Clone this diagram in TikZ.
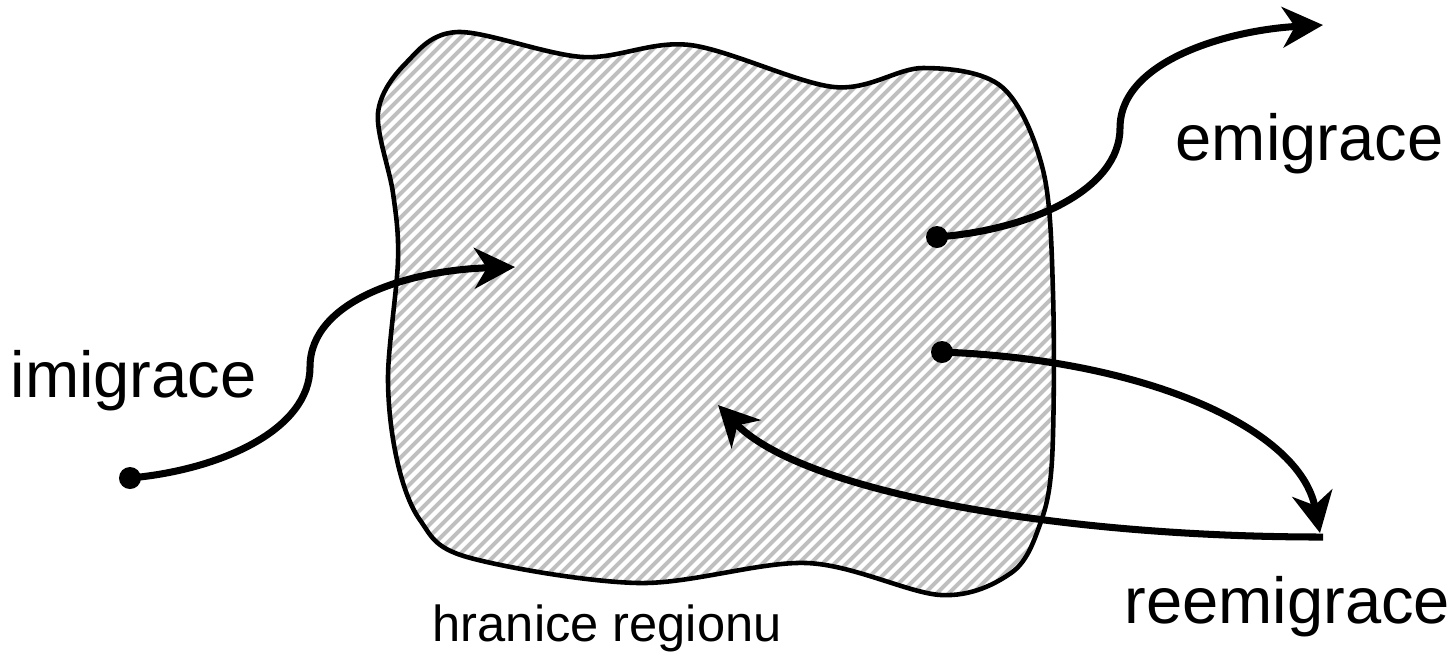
\documentclass[tikz,border=0pt]{standalone}
\usepackage{fontspec}
\setmainfont{Liberation Sans}
\usepackage{tikz}
\usetikzlibrary{arrows.meta,positioning,calc}

\begin{document}
\begin{tikzpicture}[x=0.01cm, y=-0.01cm,
  flow/.style={line width=2pt, -{Stealth[length=11.5pt, width=11.5pt, inset=3.5pt]}},
  biglbl/.style={font=\fontsize{18.5}{22}\selectfont, inner sep=0pt, anchor=base west},
  smalllbl/.style={font=\fontsize{14.4}{17}\selectfont, inner sep=0pt, anchor=base west}]
\useasboundingbox (0,0) rectangle (1455,653);
% region with hatching
\draw[line width=1.3pt, fill=black!25,
  path picture={
    \foreach \k in {-700,-688,...,1500}
      \draw[white, line width=1.2pt] (\k,700) -- ++(700,-700);
  }]
  plot[smooth cycle, tension=0.55] coordinates {
    (406,63) (458,32) (583,57) (690,45) (834,87) (923,68) (1002,87)
    (1043,170) (1053,293) (1052,460) (1039,527) (1011,573) (941,595)
    (807,563) (639,583) (467,557) (420,520) (397,460) (388,377)
    (398,260) (393,193) (378,113)};
% end points
\coordinate (imstart) at (130,478);
\coordinate (imend) at (515,267);
\coordinate (emstart) at (937,237);
\coordinate (emend) at (1323,25);
\coordinate (restart) at (942,352);
\coordinate (returnpt) at (1323,537);
\coordinate (reend) at (718,405);
\foreach \p in {imstart,emstart,restart}
  \fill (\p) circle (0.11cm);
% flows
\draw[flow] (imstart) .. controls (220,470) and (310,430) .. (310,367)
  .. controls (310,300) and (410,270) .. (imend);
\draw[flow] (emstart) .. controls (1030,230) and (1120,190) .. (1120,128)
  .. controls (1120,60) and (1230,30) .. (emend);
\draw[flow] (restart) .. controls (1150,360) and (1300,430) .. ($(returnpt)+(-3,-4)$);
\draw[flow] (returnpt) .. controls (1050,537) and (800,490) .. (reend);
% labels
\node[biglbl] (imi) at (10,397) {imigrace};
\node[biglbl] (emi) at (1175,160) {emigrace};
\node[biglbl] (reemi) at (1124,623) {reemigrace};
\node[smalllbl] (hranice) at (432,641) {hranice regionu};
\end{tikzpicture}
\end{document}
